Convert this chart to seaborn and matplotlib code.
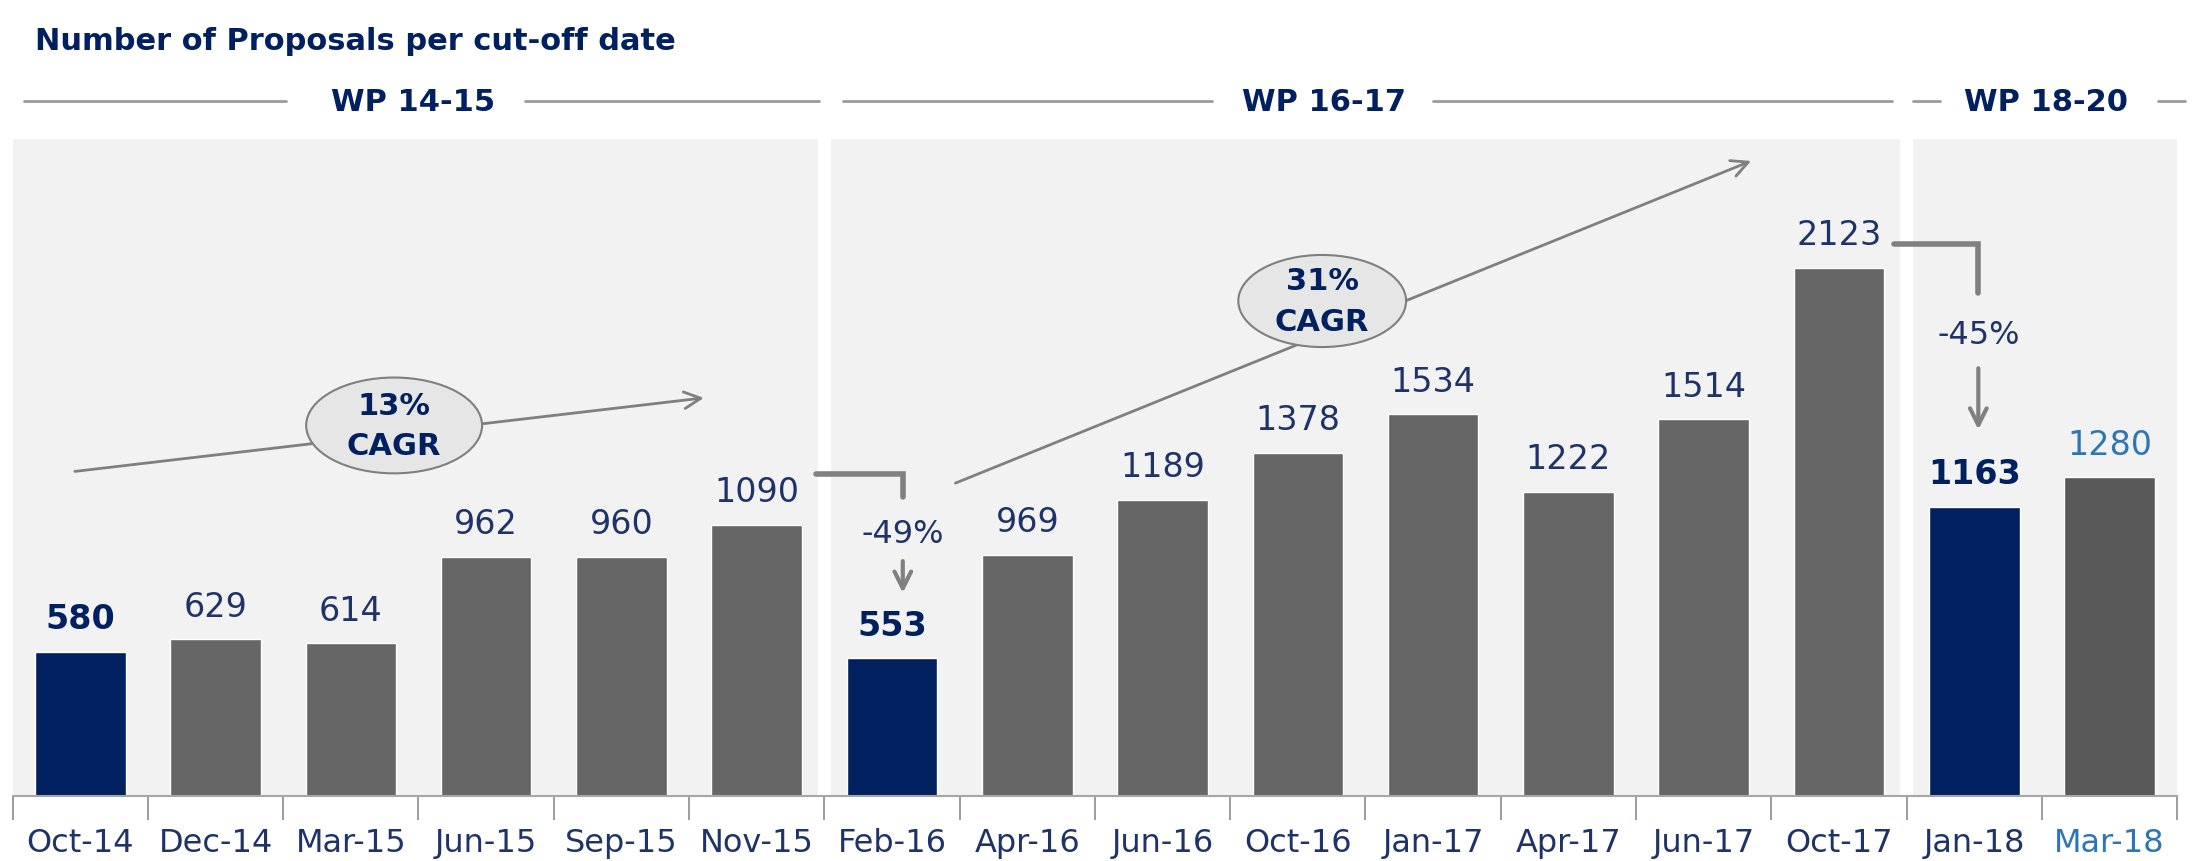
import matplotlib
matplotlib.use("Agg")
import matplotlib.pyplot as plt
from matplotlib.patches import Ellipse
import seaborn as sns
import pandas as pd

categories = ['Oct-14', 'Dec-14', 'Mar-15', 'Jun-15', 'Sep-15', 'Nov-15', 'Feb-16', 'Apr-16',
              'Jun-16', 'Oct-16', 'Jan-17', 'Apr-17', 'Jun-17', 'Oct-17', 'Jan-18', 'Mar-18']
values = [580, 629, 614, 962, 960, 1090, 553, 969, 1189, 1378, 1534, 1222, 1514, 2123, 1163, 1280]
highlight = ['Oct-14', 'Feb-16', 'Jan-18']
periods = ['WP 14-15', 'WP 16-17', 'WP 18-20']
period_bounds = [(-0.5, 5.5), (5.5, 13.5), (13.5, 15.5)]
cagr_labels = ['13%\nCAGR', '31%\nCAGR']
drop_labels = ['-49%', '-45%']

NAVY = '#002060'
TXT = '#1f3368'
LBLUE = '#2e75b6'
GRAY = '#666666'

sns.set_theme(style='white')
plt.rcParams['font.family'] = ['DejaVu Sans']

colors = []
for c in categories:
    if c in highlight:
        colors.append(NAVY)
    elif c == 'Mar-18':
        colors.append('#595959')
    else:
        colors.append(GRAY)

df = pd.DataFrame({'date': categories, 'n': values})

fig = plt.figure(figsize=(21.92, 8.62), dpi=100)
fig.patch.set_facecolor('white')
ax = fig.add_axes([0.00575, 0.0754, 0.9875, 0.7622])
ax.set_facecolor('white')

# panels
gap = 0.05
for i, (a, b) in enumerate(period_bounds):
    a2 = a + (gap if i > 0 else 0)
    b2 = b - (gap if i < len(period_bounds) - 1 else 0)
    ax.axvspan(a2, b2, ymin=0, ymax=1, color='#f2f2f2', zorder=0, lw=0)

sns.barplot(data=df, x='date', y='n', hue='date', palette=colors, legend=False,
            width=0.67, saturation=1, ax=ax, zorder=2)

ax.set_xlim(-0.5, 15.5)
ax.set_ylim(0, 2640)
ax.set_xlabel('')
ax.set_ylabel('')
ax.set_yticks([])
for s in ['top', 'left', 'right']:
    ax.spines[s].set_visible(False)
ax.spines['bottom'].set_color('#a6a6a6')
ax.spines['bottom'].set_linewidth(1.5)

ax.set_xticks(range(len(categories)))
ax.set_xticklabels(categories, fontsize=23)
ax.set_xticks([i - 0.5 for i in range(len(categories) + 1)], minor=True)
ax.tick_params(axis='x', which='major', length=0, pad=22)
ax.tick_params(axis='x', which='minor', length=17, width=1.2, color='#8c8c8c', bottom=True)
for lbl, c in zip(ax.get_xticklabels(), categories):
    lbl.set_color(LBLUE if c == 'Mar-18' else TXT)

# value labels
for i, (c, v) in enumerate(zip(categories, values)):
    if c in highlight:
        ax.annotate(str(v), (i, v), xytext=(0, 12), textcoords='offset points', ha='center',
                    va='bottom', fontsize=24, fontweight='bold', color=NAVY)
    else:
        ax.annotate(str(v), (i, v), xytext=(0, 12), textcoords='offset points', ha='center',
                    va='bottom', fontsize=24, color=LBLUE if c == 'Mar-18' else TXT)

# period headers: (text x, left line, right line)
hy = 2792
header_geom = [(2.46, (-0.415, 1.523), (3.285, 5.46)),
               (9.19, (5.637, 8.363), (10.0, 13.39)),
               (14.53, (13.55, 13.75), (15.36, 15.56))]
for name, (tx, l, r) in zip(periods, header_geom):
    ax.text(tx, hy, name, ha='center', va='center', fontsize=22, fontweight='bold',
            color=NAVY, clip_on=False)
    ax.plot(l, [hy, hy], color='#9a9a9a', lw=2, clip_on=False)
    ax.plot(r, [hy, hy], color='#9a9a9a', lw=2, clip_on=False)

# CAGR arrows
cagr = [((-0.06, 1303), (4.63, 1601), (2.32, 1489), 1.30, 385),
        ((6.45, 1253), (12.37, 2556), (9.18, 1989), 1.24, 370)]
for (p0, p1, ctr, w, h), lab in zip(cagr, cagr_labels):
    ax.annotate('', xy=p1, xytext=p0,
                arrowprops=dict(arrowstyle='->', color='#7f7f7f', lw=2, mutation_scale=30),
                zorder=3)
    e = Ellipse(ctr, w, h, facecolor='#e6e6e6', edgecolor='#7f7f7f', lw=1.5, zorder=4)
    ax.add_patch(e)
    ax.text(ctr[0], ctr[1], lab, ha='center', va='center', fontsize=22, fontweight='bold',
            color=NAVY, zorder=5, linespacing=1.5)

# drop brackets
drops = [(5.44, 6.08, 1292, 1200, 1056, 955, 805),
         (13.41, 14.03, 2219, 2022, 1854, 1730, 1461)]
for (xa, xb, yh, yd, yt, ya0, ya1), lab in zip(drops, drop_labels):
    ax.plot([xa, xb, xb], [yh, yh, yd], color='#808080', lw=4, solid_joinstyle='miter', zorder=3)
    ax.text(xb, yt, lab, ha='center', va='center', fontsize=23, color=TXT, zorder=5)
    ax.annotate('', xy=(xb, ya1), xytext=(xb, ya0),
                arrowprops=dict(arrowstyle='->', color='#808080', lw=3, mutation_scale=30),
                zorder=3)

fig.text(35 / 2192, 1 - 42 / 862, 'Number of Proposals per cut-off date', ha='left',
         va='center', fontsize=22, fontweight='bold', color=NAVY)

fig.savefig('out.png', dpi=100, facecolor='white')
